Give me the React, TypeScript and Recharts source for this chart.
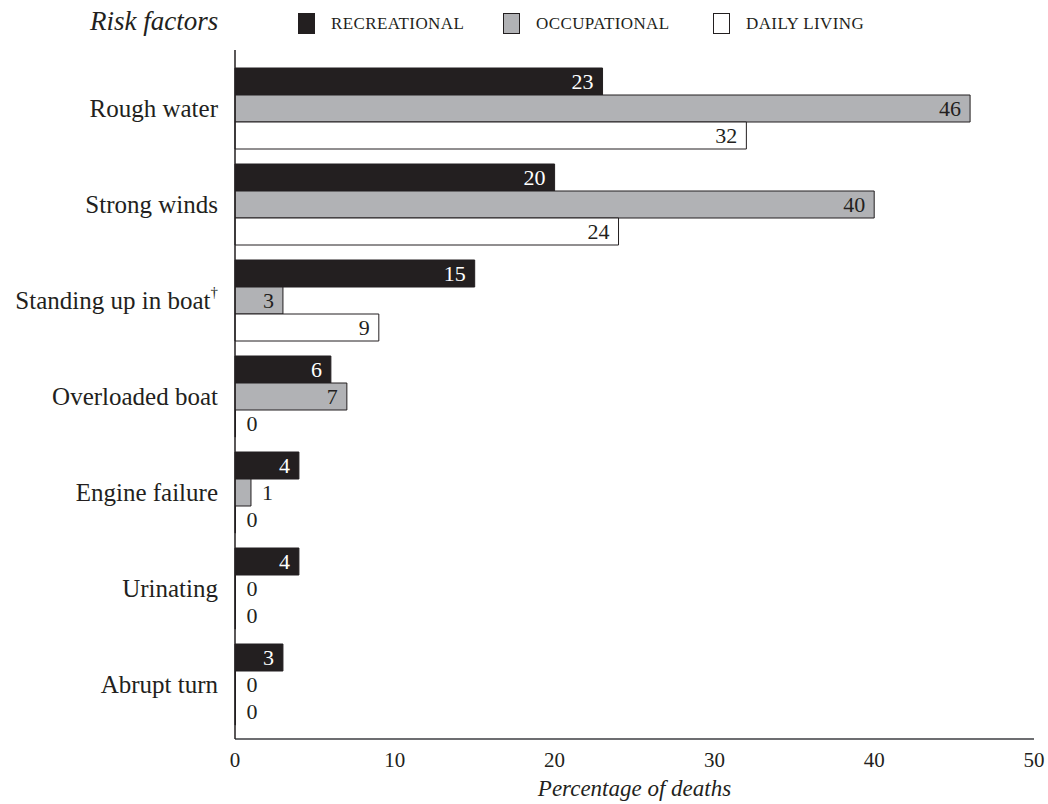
import React from "react";
import { BarChart, Bar, XAxis, YAxis, LabelList } from "recharts";

const categories = [
  "Rough water",
  "Strong winds",
  "Standing up in boat†",
  "Overloaded boat",
  "Engine failure",
  "Urinating",
  "Abrupt turn",
];
const recreational = [23, 20, 15, 6, 4, 4, 3];
const occupational = [46, 40, 3, 7, 1, 0, 0];
const dailyLiving = [32, 24, 9, 0, 0, 0, 0];
const xTicks = [0, 10, 20, 30, 40, 50];

const seriesNames = ["RECREATIONAL", "OCCUPATIONAL", "DAILY LIVING"];
const seriesColors = ["#231f20", "#b1b2b5", "#ffffff"];

const FONT = "'Liberation Serif', 'DejaVu Serif', serif";
const INK = "#231f20";

const data = categories.map((name, i) => ({
  name,
  recreational: recreational[i],
  occupational: occupational[i],
  daily: dailyLiving[i],
}));

const makeValueLabel = (insideColor: string) => (props: any) => {
  const { x, y, width, height, value } = props;
  const inside = width > 30;
  const tx = inside ? x + width - 9 : x + width + 11;
  return (
    <text
      x={tx}
      y={y + height / 2}
      dy="0.35em"
      textAnchor={inside ? "end" : "start"}
      fontFamily={FONT}
      fontSize={22}
      fill={inside ? insideColor : INK}
    >
      {value}
    </text>
  );
};

const CategoryTick = (props: any) => {
  const { x, y, payload } = props;
  const label: string = payload.value;
  const hasDagger = label.endsWith("†");
  const main = hasDagger ? label.slice(0, -1) : label;
  return (
    <text
      x={x}
      y={y}
      dy="0.35em"
      textAnchor="end"
      fontFamily={FONT}
      fontSize={25}
      fill={INK}
    >
      {main}
      {hasDagger && (
        <tspan fontSize={15} dy="-0.8em">
          †
        </tspan>
      )}
    </text>
  );
};

const AxisTitle = (props: any) => {
  const { viewBox } = props;
  return (
    <text
      x={viewBox.x + viewBox.width / 2}
      y={788}
      dy="0.35em"
      textAnchor="middle"
      fontFamily={FONT}
      fontStyle="italic"
      fontSize={23}
      fill={INK}
    >
      Percentage of deaths
    </text>
  );
};

export default function App() {
  return (
    <div
      style={{
        position: "absolute",
        left: 0,
        top: 0,
        width: 1048,
        height: 804,
        background: "#fff",
      }}
    >
      <div
        style={{
          position: "absolute",
          left: 0,
          top: 0,
          width: 1048,
          height: 48,
          fontFamily: FONT,
          color: INK,
        }}
      >
        <span
          style={{
            position: "absolute",
            left: 90,
            top: 6,
            fontSize: 27,
            fontStyle: "italic",
          }}
        >
          Risk factors
        </span>
        {seriesNames.map((s, i) => (
          <div
            key={s}
            style={{
              position: "absolute",
              left: [298, 503, 713][i],
              top: 13,
              display: "flex",
              alignItems: "center",
            }}
          >
            <div
              style={{
                width: 17,
                height: 21,
                background: seriesColors[i],
                border: `1px solid ${INK}`,
                boxSizing: "border-box",
              }}
            />
            <span style={{ marginLeft: 16, fontSize: 17, letterSpacing: 0.4 }}>
              {s}
            </span>
          </div>
        ))}
      </div>
      <BarChart
        width={1048}
        height={804}
        data={data}
        layout="vertical"
        margin={{ top: 50, right: 14, bottom: 5, left: 0 }}
        barGap={0}
        barSize={27}
      >
        <XAxis
          type="number"
          domain={[0, 50]}
          ticks={xTicks}
          tickLine={false}
          tickSize={0}
          tickMargin={13}
          height={60}
          axisLine={{ stroke: "#6d6e71", strokeWidth: 2 }}
          tick={{ fontFamily: FONT, fontSize: 21, fill: INK }}
          label={<AxisTitle />}
        />
        <YAxis
          type="category"
          dataKey="name"
          width={235}
          tickLine={false}
          tickSize={0}
          tickMargin={17}
          padding={{ top: 10, bottom: 7 }}
          axisLine={{ stroke: INK, strokeWidth: 1.5 }}
          tick={<CategoryTick />}
        />
        <Bar
          dataKey="recreational"
          fill={seriesColors[0]}
          stroke={INK}
          strokeWidth={1}
          minPointSize={0.5}
          isAnimationActive={false}
        >
          <LabelList dataKey="recreational" content={makeValueLabel("#ffffff")} />
        </Bar>
        <Bar
          dataKey="occupational"
          fill={seriesColors[1]}
          stroke={INK}
          strokeWidth={1}
          minPointSize={0.5}
          isAnimationActive={false}
        >
          <LabelList dataKey="occupational" content={makeValueLabel(INK)} />
        </Bar>
        <Bar
          dataKey="daily"
          fill={seriesColors[2]}
          stroke={INK}
          strokeWidth={1}
          minPointSize={0.5}
          isAnimationActive={false}
        >
          <LabelList dataKey="daily" content={makeValueLabel(INK)} />
        </Bar>
      </BarChart>
    </div>
  );
}
